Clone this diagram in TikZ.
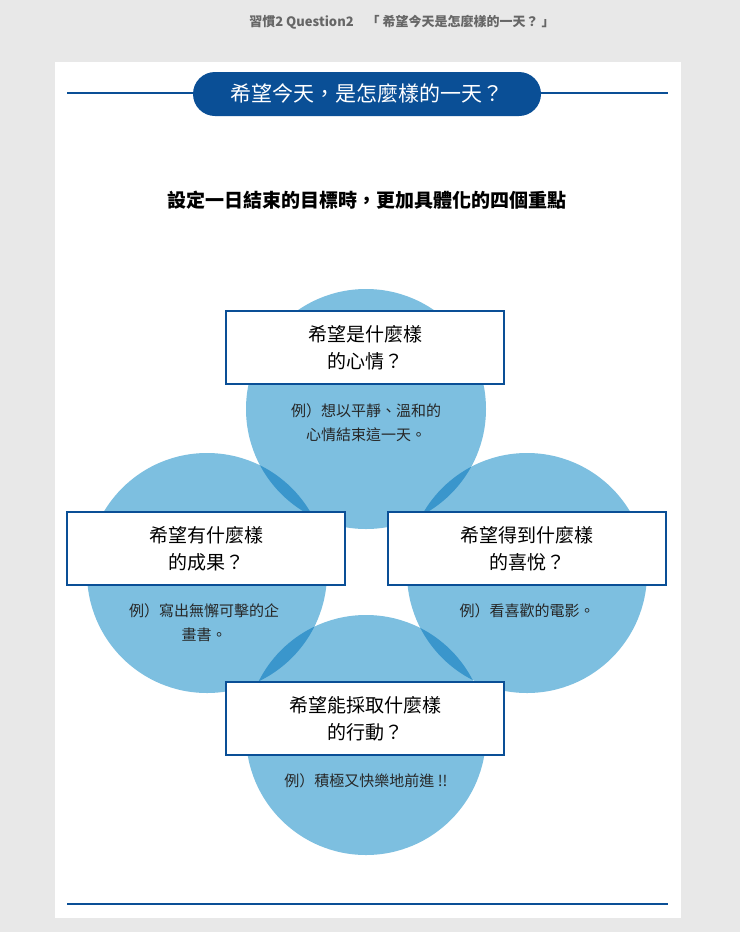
\documentclass[tikz,border=0pt]{standalone}
\usepackage{fontspec}
\setmainfont{Noto Sans CJK TC}
\definecolor{bgg}{HTML}{E8E8E8}
\definecolor{navy}{HTML}{0A4F96}
\definecolor{lb}{HTML}{7DBFE0}
\definecolor{db}{HTML}{3A96CC}
\begin{document}
\begin{tikzpicture}[x=1pt,y=-1pt,
  qbox/.style={draw=navy,line width=1.8pt,fill=white,minimum width=278pt,minimum height=73pt,align=center,font=\fontsize{19}{27}\selectfont,inner sep=0pt},
  ex/.style={align=center,font=\fontsize{15}{24}\selectfont,text=black!85}]
\useasboundingbox (0,0) rectangle (740,932);
\fill[bgg] (0,0) rectangle (740,932);
\fill[white] (55,62) rectangle (681,918);
\node[font=\bfseries\fontsize{13}{15}\selectfont,text=black!60] (hdr) at (402,22) {習慣2 Question2　「 希望今天是怎麼樣的一天？ 」};
\coordinate (l1) at (67,93); \coordinate (l2) at (668,93);
\draw[navy,line width=1.2pt] (l1) -- (l2);
\node[fill=navy,rounded corners=22pt,minimum width=348pt,minimum height=44pt,text=white,font=\fontsize{21}{25}\selectfont] (title) at (367,94) {希望今天，是怎麼樣的一天？};
\node[font=\bfseries\fontsize{19}{23}\selectfont] (sub) at (367,200) {設定一日結束的目標時，更加具體化的四個重點};
\def\circT{(366,409) circle (120)}
\def\circL{(207,573) circle (120)}
\def\circR{(527,573) circle (120)}
\def\circB{(366,735) circle (120)}
\fill[lb] \circT; \fill[lb] \circL; \fill[lb] \circR; \fill[lb] \circB;
\begin{scope}\clip \circT; \fill[db] \circL; \fill[db] \circR; \end{scope}
\begin{scope}\clip \circB; \fill[db] \circL; \fill[db] \circR; \end{scope}
\node[qbox] (q1) at (365,347.5) {希望是什麼樣\\的心情？};
\node[qbox] (q2) at (206,548.5) {希望有什麼樣\\的成果？};
\node[qbox] (q3) at (527,548.5) {希望得到什麼樣\\的喜悅？};
\node[qbox] (q4) at (365,718.5) {希望能採取什麼樣\\的行動？};
\node[ex] (e1) at (366,423) {例）想以平靜、溫和的\\心情結束這一天。};
\node[ex] (e2) at (204,623) {例）寫出無懈可擊的企\\畫書。};
\node[ex] (e3) at (527,611) {例）看喜歡的電影。};
\node[ex] (e4) at (366,781) {例）積極又快樂地前進 !!};
\coordinate (b1) at (67,904); \coordinate (b2) at (668,904);
\draw[navy,line width=1.2pt] (b1) -- (b2);
\end{tikzpicture}
\end{document}
